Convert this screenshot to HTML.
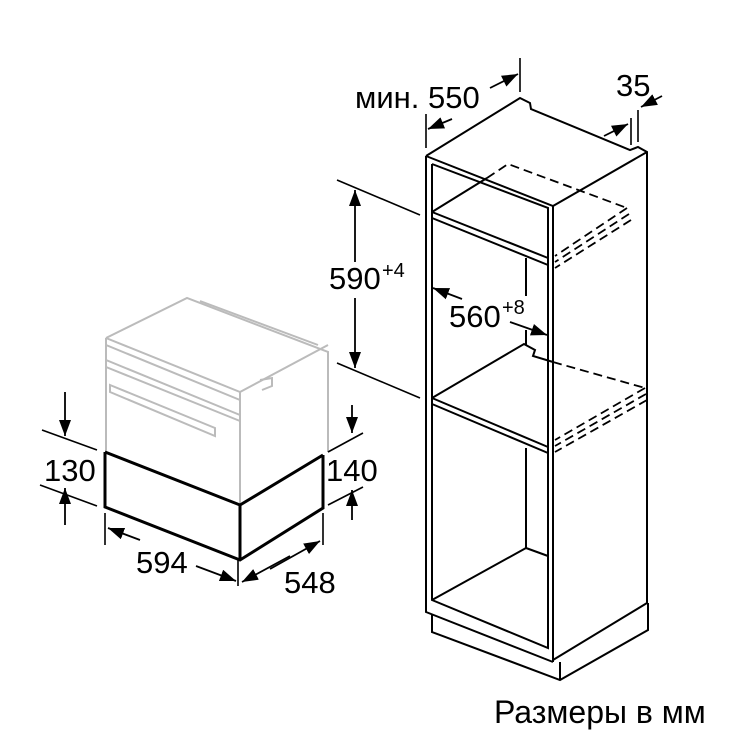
<!DOCTYPE html>
<html><head><meta charset="utf-8"><style>body{margin:0;background:#fff}svg{display:block}</style></head><body>
<svg width="750" height="750" viewBox="0 0 750 750" xmlns="http://www.w3.org/2000/svg">
<defs>
<marker id="a" viewBox="0 0 16 12" refX="16" refY="6" markerWidth="16" markerHeight="12" orient="auto" markerUnits="userSpaceOnUse"><path d="M0,0 L16,6 L0,12 z" fill="#000"/></marker>
</defs>
<g fill="none" stroke="#bbb" stroke-width="2">
<path d="M106,338 L187,298 L328,352 L328,452"/>
<path d="M106,338 L106,452 M106,338 L240,392 L240,505 M240,392 L328,345"/>
<path d="M106,345 L240,400 M106,360 L240,415 M106,367 L240,421"/>
<path d="M110,385 L215,428 L215,436 L110,392 z"/>
<path d="M200,301 L318,345 M260,380 L272,378 L272,386 L262,390"/>
</g>
<g fill="none" stroke="#000" stroke-width="3">
<path d="M105,452 L240,505 L323,455 M105,452 L105,507 L240,560 L323,508 L323,455 M240,505 L240,560"/>
</g>
<g fill="none" stroke="#000" stroke-width="2">
<path d="M426,156 L520,98 L530,103 L531,109 L630,150 L638,147 L647,152 L647,603"/>
<path d="M426,156 L553,206 L647,152"/>
<path d="M426,156 L426,612 L553,662 M432,164 L432,600 L548,648 L548,208 L432,164"/>
<path d="M553,206 L553,662 M647,603 L553,660"/>
<path d="M432,614 L432,632 L560,680 L648,630 L648,603 M560,662 L560,680"/>
<path d="M432,212 L548,258 M432,218 L548,265 M432,212 L487,178"/>
<path d="M432,398 L548,447 M432,404 L548,453 M432,398 L524,344 L535,350 L533,356 L553,362"/>
<path d="M526,258 L526,296 M526,330 L526,345 M526,448 L526,548 L548,556 M432,600 L526,548"/>
</g>
<g fill="none" stroke="#000" stroke-width="1.8" stroke-dasharray="9,5">
<path d="M487,178 L508,164 L627,208 M627,208 L555,256 M629,214 L555,262 M631,220 L555,268"/>
<path d="M553,362 L645,388 M645,388 L555,440 M646,394 L555,446 M647,400 L555,452"/>
</g>
<g fill="none" stroke="#000" stroke-width="1.6">
<path d="M337,180 L420,215 M337,363 L420,398"/>
<path d="M426,114 L426,148 M520,58 L520,92 M631,118 L631,145 M638,110 L638,142"/>
<path d="M42,430 L97,450 M40,485 L97,506 M328,452 L363,433 M328,505 L363,487"/>
<path d="M105,513 L105,545 M238,560 L238,586 M323,513 L323,545"/>
</g>
<g fill="none" stroke="#000" stroke-width="1.8" marker-end="url(#a)">
<path d="M355,262 L355,190"/><path d="M355,298 L355,368"/>
<path d="M462,299 L433,288"/><path d="M510,322 L547,335"/>
<path d="M490,88 L518,74"/><path d="M452,119 L428,129"/>
<path d="M604,136 L628,124"/><path d="M662,96 L641,107"/>
<path d="M65,392 L65,436"/><path d="M65,525 L65,488"/>
<path d="M352,405 L352,433"/><path d="M352,520 L352,490"/>
<path d="M140,540 L108,528"/><path d="M196,566 L236,581"/>
<path d="M270,569 L320,541"/><path d="M290,556 L242,582"/>
</g>
<g font-family="Liberation Sans, sans-serif" font-size="31" fill="#000">
<text x="355" y="108">мин. 550</text>
<text x="616" y="96">35</text>
<text x="329" y="289">590</text><text x="382" y="277" font-size="20">+4</text>
<text x="449" y="327">560</text><text x="502" y="314" font-size="20">+8</text>
<text x="44" y="481">130</text>
<text x="326" y="481">140</text>
<text x="136" y="573">594</text>
<text x="284" y="593">548</text>
<text x="494" y="723" font-size="32">Размеры в мм</text>
</g>
</svg>
</body></html>
